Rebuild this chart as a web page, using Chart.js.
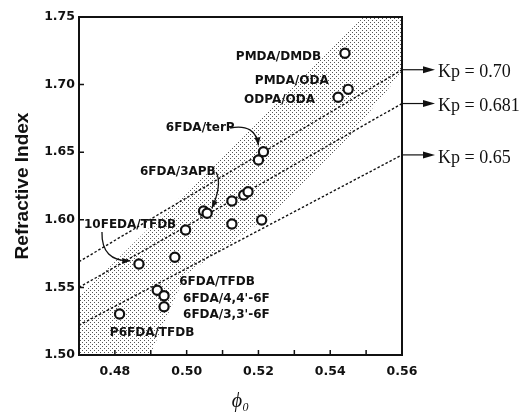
<!DOCTYPE html>
<html>
<head>
<meta charset="utf-8">
<script src="https://cdn.jsdelivr.net/npm/chart.js@4.4.1/dist/chart.umd.min.js"></script>
<style>
  html, body { margin: 0; padding: 0; background: #fff; }
  canvas { display: block; }
</style>
</head>
<body>
<canvas id="chart" width="527" height="415"></canvas>
<script>
// Datos
const phi = [0.4813, 0.4867, 0.4967, 0.4918, 0.4937, 0.4937, 0.4997, 0.5047, 0.5057, 0.5126,
             0.5126, 0.5159, 0.5171, 0.5200, 0.5214, 0.5209, 0.5422, 0.5450, 0.5441];
const refIndex = [1.5303, 1.5673, 1.5723, 1.5479, 1.5439, 1.5357, 1.5925, 1.6065, 1.6048, 1.5969,
                  1.6139, 1.6183, 1.6208, 1.6442, 1.6504, 1.5999, 1.6906, 1.6965, 1.7232];

// Rectas Kp (extremos en phi = 0.47 y 0.56)
const lineX = [0.47, 0.56];
const kpLabels = ['Kp = 0.70', 'Kp = 0.681', 'Kp = 0.65'];
const kpStart = [1.569, 1.550, 1.522];
const kpEnd = [1.711, 1.686, 1.648];

// Banda sombreada
const bandUpperX = [0.47, 0.56];
const bandUpperY = [1.5429, 1.778];
const bandLowerX = [0.47, 0.4898, 0.4996, 0.5234, 0.5457, 0.56];
const bandLowerY = [1.38, 1.50, 1.5592, 1.6036, 1.6627, 1.7093];

// Ejes
const xTicks = [0.48, 0.50, 0.52, 0.54, 0.56];
const yTicks = [1.50, 1.55, 1.60, 1.65, 1.70, 1.75];

// Etiquetas de los polímeros
const noteText = ['PMDA/DMDB', 'PMDA/ODA', 'ODPA/ODA', '6FDA/terP', '6FDA/3APB', '10FEDA/TFDB',
                  '6FDA/TFDB', "6FDA/4,4'-6F", "6FDA/3,3'-6F", 'P6FDA/TFDB'];
const noteX = [0.5137, 0.5190, 0.5160, 0.4942, 0.4870, 0.4714, 0.4979, 0.4990, 0.4990, 0.4786];
const noteY = [1.7204, 1.7027, 1.6886, 1.6679, 1.6354, 1.5962, 1.5540, 1.5414, 1.5296, 1.5163];

// Flechas curvas: inicio, control, punta
const arrowFrom = [[0.5121, 1.6679], [0.5082, 1.6354], [0.4764, 1.5910]];
const arrowVia = [[0.5192, 1.6715], [0.5100, 1.6260], [0.4762, 1.5690]];
const arrowTo = [[0.5200, 1.6550], [0.5070, 1.6085], [0.4843, 1.5697]];

const toPts = (xs, ys) => xs.map((x, i) => ({ x: x, y: ys[i] }));

// Patrón punteado para la banda
function stipple() {
    const c = document.createElement('canvas');
    c.width = 4; c.height = 4;
    const g = c.getContext('2d');
    g.fillStyle = '#ffffff';
    g.fillRect(0, 0, 4, 4);
    g.fillStyle = '#555555';
    g.fillRect(0, 0, 1, 1);
    g.fillRect(2, 2, 1, 1);
    return g.createPattern(c, 'repeat');
}

function arrowHead(ctx, fx, fy, tx, ty, len, half) {
    const a = Math.atan2(ty - fy, tx - fx);
    ctx.beginPath();
    ctx.moveTo(tx, ty);
    ctx.lineTo(tx - len * Math.cos(a) + half * Math.sin(a), ty - len * Math.sin(a) - half * Math.cos(a));
    ctx.lineTo(tx - len * Math.cos(a) - half * Math.sin(a), ty - len * Math.sin(a) + half * Math.cos(a));
    ctx.closePath();
    ctx.fill();
}

const decorPlugin = {
    id: 'decor',
    afterDatasetsDraw(chart) {
        const ctx = chart.ctx;
        const xs = chart.scales.x, ys = chart.scales.y;
        const area = chart.chartArea;
        ctx.save();
        ctx.fillStyle = '#111';
        ctx.strokeStyle = '#111';

        // marco
        ctx.lineWidth = 2;
        ctx.strokeRect(area.left, area.top, area.right - area.left, area.bottom - area.top);

        // marcas hacia dentro
        ctx.lineWidth = 1.5;
        ctx.beginPath();
        for (let v = 48; v <= 55; v++) {
            const px = xs.getPixelForValue(v / 100);
            ctx.moveTo(px, area.bottom);
            ctx.lineTo(px, area.bottom - 5);
        }
        yTicks.forEach(v => {
            const py = ys.getPixelForValue(v);
            ctx.moveTo(area.left, py);
            ctx.lineTo(area.left + 5, py);
        });
        ctx.stroke();

        // textos
        ctx.font = 'bold 12px "DejaVu Sans"';
        ctx.textAlign = 'left';
        ctx.textBaseline = 'middle';
        noteText.forEach((t, i) => {
            ctx.fillText(t, xs.getPixelForValue(noteX[i]), ys.getPixelForValue(noteY[i]));
        });

        // flechas curvas
        ctx.lineWidth = 1.3;
        arrowFrom.forEach((f, i) => {
            const x0 = xs.getPixelForValue(f[0]), y0 = ys.getPixelForValue(f[1]);
            const cx = xs.getPixelForValue(arrowVia[i][0]), cy = ys.getPixelForValue(arrowVia[i][1]);
            const x1 = xs.getPixelForValue(arrowTo[i][0]), y1 = ys.getPixelForValue(arrowTo[i][1]);
            ctx.beginPath();
            ctx.moveTo(x0, y0);
            ctx.quadraticCurveTo(cx, cy, x1, y1);
            ctx.stroke();
            arrowHead(ctx, cx, cy, x1, y1, 8, 3);
        });

        // etiquetas Kp a la derecha
        ctx.font = '18px "Liberation Serif"';
        kpLabels.forEach((t, i) => {
            const py = ys.getPixelForValue(kpEnd[i]);
            ctx.lineWidth = 1.2;
            ctx.beginPath();
            ctx.moveTo(area.right + 1, py);
            ctx.lineTo(area.right + 26, py);
            ctx.stroke();
            arrowHead(ctx, area.right + 20, py, area.right + 33, py, 12, 3.5);
            ctx.fillText(t, area.right + 36, py + 3);
        });
        ctx.restore();
    }
};

const kpSets = kpLabels.map((t, i) => ({
    type: 'line',
    label: t,
    data: toPts(lineX, [kpStart[i], kpEnd[i]]),
    borderColor: '#111',
    borderWidth: 1.4,
    borderDash: [2.5, 2],
    pointRadius: 0,
    fill: false,
    order: 5
}));

const ctx = document.getElementById('chart').getContext('2d');
new Chart(ctx, {
    type: 'scatter',
    data: {
        datasets: [
            {
                type: 'line',
                label: 'banda sup',
                data: toPts(bandUpperX, bandUpperY),
                borderWidth: 0,
                pointRadius: 0,
                fill: false,
                order: 10
            },
            {
                type: 'line',
                label: 'banda inf',
                data: toPts(bandLowerX, bandLowerY),
                borderWidth: 0,
                pointRadius: 0,
                backgroundColor: stipple(),
                fill: '-1',
                order: 9
            },
            ...kpSets,
            {
                label: 'Polímeros',
                data: toPts(phi, refIndex),
                pointRadius: 4.6,
                pointBorderWidth: 2.2,
                pointBackgroundColor: '#fff',
                pointBorderColor: '#111',
                order: 1
            }
        ]
    },
    options: {
        responsive: false,
        animation: false,
        layout: { padding: { left: 0, right: 125, top: 17, bottom: 0 } },
        plugins: {
            legend: { display: false },
            tooltip: { enabled: false }
        },
        scales: {
            x: {
                type: 'linear',
                min: 0.47,
                max: 0.56,
                afterFit: s => { s.height = 60; },
                afterBuildTicks: s => { s.ticks = xTicks.map(v => ({ value: v })); },
                grid: { display: false, drawTicks: false },
                border: { display: false },
                ticks: {
                    color: '#111',
                    padding: 9,
                    maxRotation: 0,
                    font: { family: 'DejaVu Sans', weight: 'bold', size: 12.5 },
                    callback: v => v.toFixed(2)
                },
                title: {
                    display: true,
                    text: 'ϕ₀',
                    color: '#111',
                    padding: { top: 0, bottom: 1 },
                    font: { family: 'Liberation Serif', style: 'italic', size: 20 }
                }
            },
            y: {
                min: 1.50,
                max: 1.75,
                afterFit: s => { s.width = 79; },
                afterBuildTicks: s => { s.ticks = yTicks.map(v => ({ value: v })); },
                grid: { display: false, drawTicks: false },
                border: { display: false },
                ticks: {
                    color: '#111',
                    padding: 4,
                    font: { family: 'DejaVu Sans', weight: 'bold', size: 12.5 },
                    callback: v => v.toFixed(2)
                },
                title: {
                    display: true,
                    text: 'Refractive Index',
                    color: '#111',
                    padding: { top: 11, bottom: 0 },
                    font: { family: 'Liberation Sans', weight: 'bold', size: 19 }
                }
            }
        }
    },
    plugins: [decorPlugin]
});
</script>
</body>
</html>
